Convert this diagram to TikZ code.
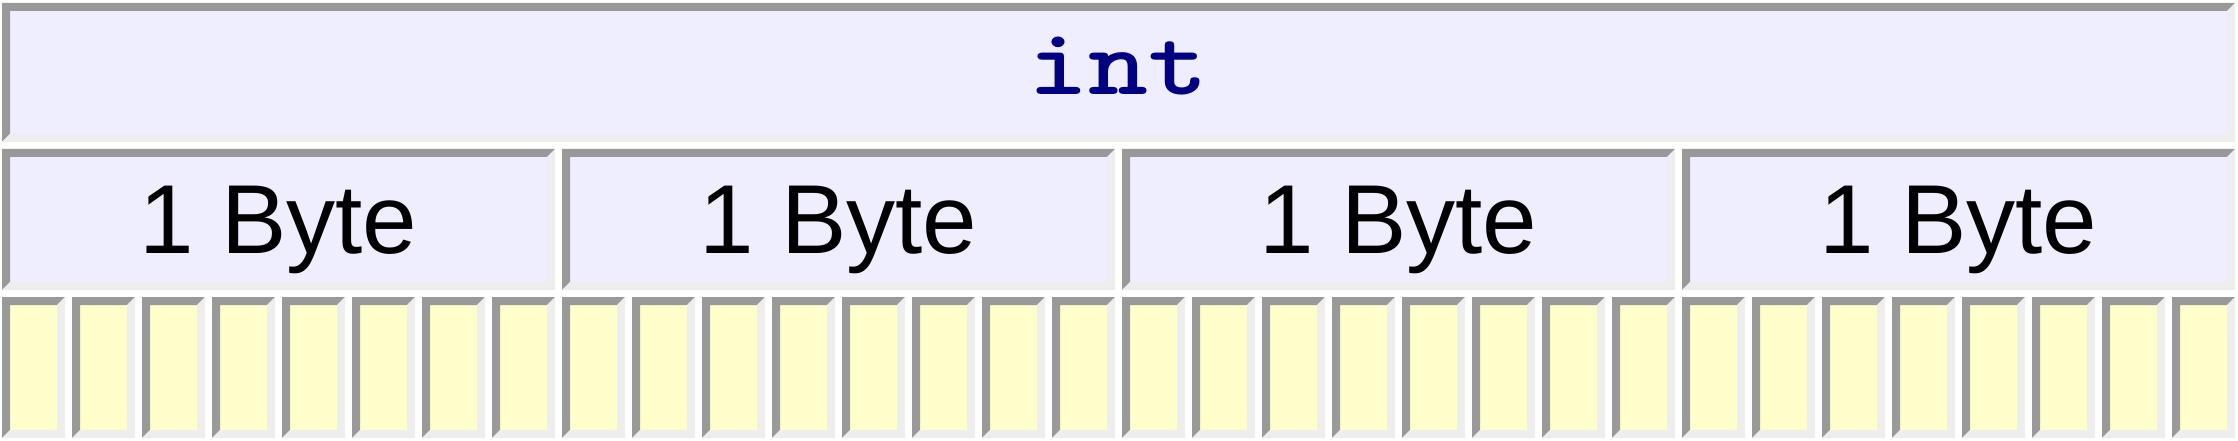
\documentclass[tikz,border=0pt]{standalone}
\usepackage{fontspec}
\usepackage{xcolor}
\usepackage{tikz}
\newfontfamily\arialfont{Liberation Sans}
\definecolor{lavanda}{HTML}{EEEEFF}
\definecolor{giallino}{HTML}{FFFFCC}
\definecolor{scuro}{HTML}{999999}
\definecolor{chiaro}{HTML}{EEEEEE}
\definecolor{blu}{HTML}{000080}

% Bordo in rilievo di una cella
\newcommand{\bordo}[1]{%
  \fill[scuro] (#1.north west) -- (#1.north east) -- ([shift={(-8pt,-8pt)}]#1.north east)
    -- ([shift={(8pt,-8pt)}]#1.north west) -- ([shift={(8pt,8pt)}]#1.south west) -- (#1.south west) -- cycle;
  \fill[chiaro] (#1.south west) -- ([shift={(8pt,8pt)}]#1.south west) -- ([shift={(-8pt,8pt)}]#1.south east)
    -- ([shift={(-8pt,-8pt)}]#1.north east) -- (#1.north east) -- (#1.south east) -- cycle;
}

\begin{document}
\begin{tikzpicture}[x=1pt,y=-1pt,
  cella/.style={inner sep=0pt, outer sep=0pt, anchor=north west},
  testo/.style={anchor=base, inner sep=0pt}]

\useasboundingbox (0,0) rectangle (2238,441);

% Cella int
\node[cella, fill=lavanda, minimum width=2233pt, minimum height=139pt] (int) at (2,3) {};
\bordo{int}
\node[testo, text=blu, xscale=1.2, transform shape,
  font=\ttfamily\bfseries\fontsize{95}{95}\selectfont] (tint) at (1118.5,95) {int};

% Byte
\foreach \i in {0,...,3} {
  \node[cella, fill=lavanda, minimum width=553pt, minimum height=141pt] (b\i) at ({2+560*\i},149) {};
  \bordo{b\i}
  \node[testo, font=\arialfont\fontsize{98}{98}\selectfont] (tb\i) at ({278.5+560*\i},253) {1 Byte};
}

% Bit
\foreach \i in {0,...,31} {
  \node[cella, fill=giallino, minimum width=63pt, minimum height=141pt] (k\i) at ({2+70*\i},297) {};
  \bordo{k\i}
}
\end{tikzpicture}
\end{document}
